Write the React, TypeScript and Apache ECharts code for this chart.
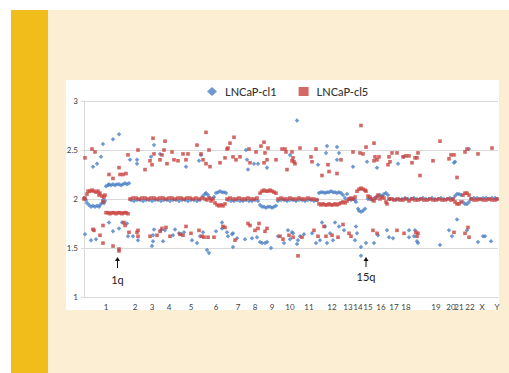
import React, { useEffect, useRef } from "react";
import * as echarts from "echarts";

const chromosomeLabels = ["1","2","3","4","5","6","7","8","9","10","11","12","13","14","15","16","17","18","19","20","21","22","X","Y"];
const chromosomePositions = [22,51,68,85,107,132,154,171,188,206,225,248,264,274,284,297,310,322,352,367,375,386,398,413];
const seriesNames = ["LNCaP-cl1", "LNCaP-cl5"];

const cl1Band = [
  [0,2.01],[2,1.99],[3,1.96],[5,1.94],[7,1.92],[9,1.93],[11,1.92],[13,1.93],[15,1.92],[16,1.94],[18,1.96],[19,1.99],[20,1.96],[21,1.98],
  [22,2.13],[24,2.14],[25,2.15],[27,2.14],[29,2.15],[31,2.14],[33,2.15],[35,2.15],[37,2.14],[39,2.15],[41,2.16],[43,2.15],[45,2.16],
  [47,1.99],[50,1.98],[53,1.99],[56,1.99],[59,1.98],[62,1.99],[65,1.99],[68,1.98],[71,1.99],[74,1.99],[77,1.98],[80,1.99],[83,1.99],[86,1.98],[89,1.99],[92,1.99],[95,1.98],[98,1.99],[101,1.99],[104,1.98],[107,1.99],[110,1.99],[113,1.98],[116,1.99],
  [119,2.03],[121,2.05],[122,2.06],[124,2.04],[126,2.01],[128,2.0],[130,2.02],[132,2.06],[134,2.07],[136,2.08],[138,2.07],[140,2.07],[142,2.06],
  [144,1.99],[147,1.98],[150,1.98],[153,1.99],[156,1.98],[159,1.98],[162,1.99],[165,1.98],[168,1.98],[171,1.99],[174,1.98],
  [176,1.94],[178,1.92],[180,1.92],[182,1.91],[184,1.92],[186,1.92],[188,1.91],[190,1.92],[192,1.93],
  [194,1.98],[197,1.99],[200,1.99],[203,1.98],[206,1.99],[209,1.99],[212,1.98],[215,1.99],[218,1.99],[221,1.98],[224,1.99],[227,1.99],[230,1.98],[233,1.99],
  [235,2.06],[237,2.07],[239,2.07],[241,2.06],[243,2.07],[245,2.07],[247,2.08],[249,2.07],[251,2.07],[253,2.06],[255,2.07],[257,2.06],
  [259,2.04],[261,2.01],[263,2.05],[265,2.0],[267,1.99],[269,2.0],[271,1.99],[272,1.97],
  [274,1.9],[275,1.88],[277,1.87],[279,1.88],[281,1.9],
  [284,2.0],[286,2.0],[288,1.99],[290,2.0],[292,2.02],[294,2.03],[296,2.04],[298,2.03],[300,2.05],[302,2.06],[304,2.04],
  [306,2.0],[309,2.0],[312,1.99],[315,2.0],[318,2.0],[321,2.01],[324,2.0],[327,2.0],[330,2.01],[333,2.0],[336,2.0],[339,2.01],[342,2.0],[345,2.0],[348,2.01],[351,2.0],[354,2.0],[357,2.01],[360,2.0],[363,2.0],[366,2.01],[369,2.0],
  [371,2.03],[373,2.05],[375,2.05],[377,2.04],[379,1.97],[381,1.95],[383,1.95],[385,1.97],
  [387,2.0],[390,2.01],[393,2.01],[396,2.0],[399,2.01],[402,2.01],[405,2.0],[408,2.01],[411,2.01],[413,2.0]
];

const cl1Scatter = [
  [9,2.33],[13,2.36],[17,2.43],[19,2.56],[29,2.61],[35,2.66],[46,2.40],[53,2.40],[53,2.36],[67,2.43],[70,2.55],[76,2.46],[102,2.33],[117,2.45],[115,2.39],[162,2.50],[163,2.40],[170,2.36],[174,2.36],[183,2.32],[164,2.30],[206,2.45],[213,2.80],[234,2.35],[243,2.54],[242,2.47],[253,2.53],[255,2.47],[253,2.40],[269,2.33],[283,2.38],[293,2.32],[314,2.36],[320,2.43],[370,2.37],[371,2.38],[385,2.51],
  [1,1.64],[7,1.58],[12,1.59],[25,1.76],[29,1.67],[35,1.70],[38,1.76],[43,1.75],[44,1.62],[49,1.62],[54,1.58],[69,1.63],[69,1.57],[68,1.52],[70,1.69],[77,1.68],[79,1.57],[81,1.68],[89,1.63],[91,1.69],[95,1.65],[97,1.64],[100,1.66],[108,1.58],[113,1.55],[116,1.62],[119,1.66],[123,1.48],[125,1.45],[132,1.67],[138,1.76],[138,1.70],[143,1.66],[144,1.62],[148,1.64],[149,1.65],[149,1.51],[153,1.60],[161,1.59],[168,1.60],[173,1.61],[176,1.56],[178,1.55],[181,1.55],[183,1.56],[187,1.50],[194,1.62],[200,1.55],[204,1.68],[206,1.59],[208,1.66],[209,1.65],[213,1.54],[214,1.58],[216,1.62],[220,1.64],[228,1.65],[232,1.55],[236,1.58],[238,1.76],[241,1.72],[243,1.55],[246,1.65],[249,1.58],[251,1.76],[255,1.72],[260,1.68],[272,1.72],[271,1.58],[273,1.65],[277,1.51],[277,1.42],[282,1.55],[290,1.55],[294,1.63],[303,1.68],[305,1.61],[309,1.60],[325,1.68],[325,1.61],[330,1.62],[331,1.68],[333,1.57],[334,1.55],[356,1.53],[365,1.68],[368,1.62],[373,1.79],[383,1.68],[394,1.56],[399,1.62],[401,1.62],[407,1.57]
];

const cl5Band = [
  [0,2.0],[1,2.01],[3,2.05],[4,2.08],[6,2.08],[8,2.09],[10,2.08],[12,2.07],[14,2.08],[15,2.04],[16,2.06],[18,2.03],[19,1.97],[20,2.02],[21,2.04],
  [22,1.86],[24,1.86],[26,1.85],[28,1.86],[30,1.86],[32,1.85],[34,1.86],[36,1.86],[38,1.85],[40,1.86],[42,1.86],[44,1.85],
  [46,2.0],[49,2.01],[52,2.01],[55,2.0],[58,2.01],[61,2.01],[64,2.0],[67,2.01],[70,2.01],[73,2.0],[76,2.01],[79,2.01],[82,2.0],[85,2.01],[88,2.01],[91,2.0],[94,2.01],[97,2.01],[100,2.0],[103,2.01],[106,2.01],[109,2.0],[112,2.01],[115,2.0],[118,2.01],
  [121,2.0],[123,1.99],[125,2.01],[127,1.98],[129,2.0],[131,1.96],[133,1.94],[135,1.93],[137,1.94],[139,1.93],[141,1.95],
  [143,2.0],[146,2.01],[149,2.0],[152,2.0],[155,2.01],[158,2.0],[161,2.0],[164,2.01],[167,2.0],[170,2.0],[173,2.01],
  [176,2.06],[178,2.08],[180,2.09],[182,2.08],[184,2.08],[186,2.09],[188,2.08],[190,2.07],[192,2.06],
  [194,2.0],[197,2.01],[200,2.0],[203,2.0],[206,2.01],[209,2.0],[212,2.0],[215,2.01],[218,2.0],[221,2.0],[224,2.01],[227,2.0],[230,2.0],[233,1.99],
  [235,1.95],[237,1.94],[239,1.95],[241,1.94],[243,1.94],[245,1.95],[247,1.94],[249,1.94],[251,1.95],[253,1.94],[255,1.95],[257,1.96],
  [259,1.97],[261,1.96],[263,1.98],[265,2.0],[267,2.01],[269,2.0],[271,2.02],
  [273,2.08],[275,2.1],[277,2.11],[279,2.1],[281,2.09],[282,2.08],
  [284,2.03],[286,2.02],[288,2.0],[290,1.98],[292,2.01],[294,2.04],[296,2.0],[298,2.02],[300,2.01],[302,1.97],[303,1.95],[305,2.0],
  [307,2.0],[310,1.99],[313,2.0],[316,1.99],[319,1.99],[322,2.0],[325,1.98],[328,2.0],[331,1.99],[334,1.99],[337,2.0],[340,1.99],[343,1.99],[346,2.0],[349,1.99],[352,1.99],[355,2.0],[358,1.99],[361,1.99],[364,2.0],[367,1.99],[369,2.0],
  [371,1.97],[373,1.95],[375,1.95],[377,1.97],[379,2.04],[381,2.06],[383,2.06],[385,2.04],
  [387,2.0],[390,1.99],[393,1.99],[396,2.0],[399,1.99],[402,1.99],[405,2.0],[408,1.99],[411,1.99],[413,2.0]
];

const cl5Scatter = [
  [1,2.42],[8,2.51],[11,2.48],[25,2.25],[29,2.21],[35,2.32],[36,2.25],[39,2.25],[42,2.26],[44,2.45],[54,2.50],[61,2.30],[66,2.39],[68,2.35],[69,2.62],[70,2.46],[76,2.40],[78,2.45],[81,2.59],[80,2.50],[83,2.36],[88,2.48],[90,2.40],[94,2.39],[99,2.46],[102,2.40],[104,2.46],[113,2.55],[117,2.46],[119,2.40],[122,2.68],[125,2.50],[122,2.36],[126,2.33],[136,2.37],[141,2.42],[143,2.51],[144,2.52],[146,2.57],[150,2.63],[149,2.43],[152,2.40],[156,2.43],[165,2.51],[166,2.37],[172,2.48],[177,2.54],[180,2.58],[181,2.47],[184,2.52],[183,2.40],[180,2.37],[192,2.40],[198,2.51],[201,2.51],[202,2.48],[203,2.30],[208,2.48],[209,2.42],[208,2.39],[211,2.36],[216,2.52],[210,2.38],[227,2.43],[228,2.38],[232,2.51],[238,2.24],[245,2.28],[253,2.26],[244,2.35],[257,2.40],[269,2.48],[277,2.75],[290,2.57],[282,2.53],[276,2.47],[279,2.46],[291,2.43],[295,2.43],[290,2.39],[293,2.40],[305,2.43],[308,2.47],[313,2.47],[304,2.35],[306,2.38],[319,2.43],[322,2.44],[325,2.44],[334,2.47],[333,2.42],[331,2.42],[328,2.37],[336,2.24],[349,2.39],[356,2.59],[367,2.45],[370,2.45],[365,2.41],[373,2.22],[381,2.48],[383,2.51],[394,2.46],[408,2.52],
  [9,1.69],[10,1.68],[16,1.63],[19,1.55],[19,1.73],[29,1.52],[35,1.49],[35,1.47],[40,1.76],[41,1.73],[45,1.66],[53,1.66],[54,1.68],[54,1.62],[66,1.62],[73,1.63],[76,1.67],[78,1.70],[82,1.71],[86,1.62],[96,1.64],[102,1.72],[99,1.63],[107,1.65],[115,1.68],[118,1.62],[120,1.61],[124,1.61],[130,1.61],[139,1.72],[141,1.71],[151,1.58],[164,1.75],[166,1.73],[171,1.68],[174,1.70],[175,1.75],[183,1.70],[181,1.67],[196,1.62],[199,1.59],[205,1.63],[209,1.61],[214,1.42],[218,1.61],[230,1.68],[234,1.62],[240,1.72],[242,1.62],[248,1.63],[254,1.61],[259,1.74],[265,1.65],[267,1.62],[289,1.68],[293,1.65],[313,1.68],[320,1.65],[332,1.66],[334,1.65],[333,1.62],[370,1.66],[381,1.65],[384,1.71],[385,1.61]
];

const annotations = [
  { text: "1q", x: 117.5, arrowTop: 257, arrowBottom: 268, textY: 279 },
  { text: "15q", x: 366, arrowTop: 257, arrowBottom: 267, textY: 276 }
];

const FONT = "Lato, 'Open Sans', sans-serif";

export default function App() {
  const ref = useRef<HTMLDivElement>(null);
  useEffect(() => {
    if (!ref.current) return;
    const chart = echarts.init(ref.current, undefined, { renderer: "svg" });
    const graphics: any[] = [];
    annotations.forEach((a) => {
      graphics.push({
        type: "line",
        shape: { x1: a.x, y1: a.arrowBottom, x2: a.x, y2: a.arrowTop + 3 },
        style: { stroke: "#111", lineWidth: 1 },
      });
      graphics.push({
        type: "polygon",
        shape: { points: [[a.x - 2.5, a.arrowTop + 4], [a.x, a.arrowTop], [a.x + 2.5, a.arrowTop + 4]] },
        style: { fill: "#111" },
      });
      graphics.push({
        type: "text",
        x: a.x,
        y: a.textY,
        style: {
          text: a.text,
          fill: "#222",
          font: `11px ${FONT}`,
          align: "center",
          verticalAlign: "middle",
        },
      });
    });
    chart.setOption({
      animation: false,
      textStyle: { fontFamily: FONT },
      legend: {
        left: 202,
        top: 81,
        itemGap: 22,
        itemWidth: 10,
        itemHeight: 9,
        textStyle: { fontSize: 11, color: "#333333", fontFamily: FONT, fontWeight: 500, padding: [0, 0, 0, 3] },
        data: [
          { name: seriesNames[0], icon: "diamond" },
          { name: seriesNames[1], icon: "rect" },
        ],
      },
      grid: { left: 84, right: 11, top: 101, bottom: 76, containLabel: false },
      xAxis: {
        type: "value",
        min: 0,
        max: 414,
        splitLine: { show: false },
        axisLine: { show: true, lineStyle: { color: "#D9D9D9" } },
        axisTick: { show: false },
        axisLabel: {
          customValues: chromosomePositions,
          formatter: (v: number) => {
            const i = chromosomePositions.indexOf(v);
            return i >= 0 ? chromosomeLabels[i] : "";
          },
          fontSize: 8,
          color: "#404040",
          margin: 6,
          fontFamily: FONT,
        },
      },
      yAxis: {
        type: "value",
        min: 1,
        max: 3,
        interval: 0.5,
        axisLine: { show: true, lineStyle: { color: "#D9D9D9" } },
        axisTick: { show: true, length: 3, lineStyle: { color: "#D9D9D9" } },
        splitLine: { show: true, lineStyle: { color: "#D9D9D9", width: 1 } },
        axisLabel: { fontSize: 8, color: "#404040", margin: 6, fontFamily: FONT },
      },
      series: [
        {
          name: seriesNames[0],
          type: "scatter",
          symbol: "diamond",
          symbolSize: 4.5,
          itemStyle: { color: "#4A7FC6" },
          data: [...cl1Band, ...cl1Scatter],
        },
        {
          name: seriesNames[1],
          type: "scatter",
          symbol: "rect",
          symbolSize: 3.6,
          itemStyle: { color: "#C9423E" },
          data: [...cl5Band, ...cl5Scatter],
        },
      ],
      graphic: graphics,
    });
    return () => chart.dispose();
  }, []);

  return (
    <div style={{ position: "absolute", left: 0, top: 0, width: 509, height: 373, background: "#ffffff", overflow: "hidden" }}>
      <div style={{ position: "absolute", left: 11, top: 10, width: 498, height: 363, background: "#FBEED2" }} />
      <div style={{ position: "absolute", left: 11, top: 10, width: 37, height: 363, background: "#F1BD1B" }} />
      <div style={{ position: "absolute", left: 66, top: 80, width: 433, height: 230, background: "#FFFFFF" }} />
      <div ref={ref} style={{ position: "absolute", left: 0, top: 0, width: 509, height: 373 }} />
    </div>
  );
}
